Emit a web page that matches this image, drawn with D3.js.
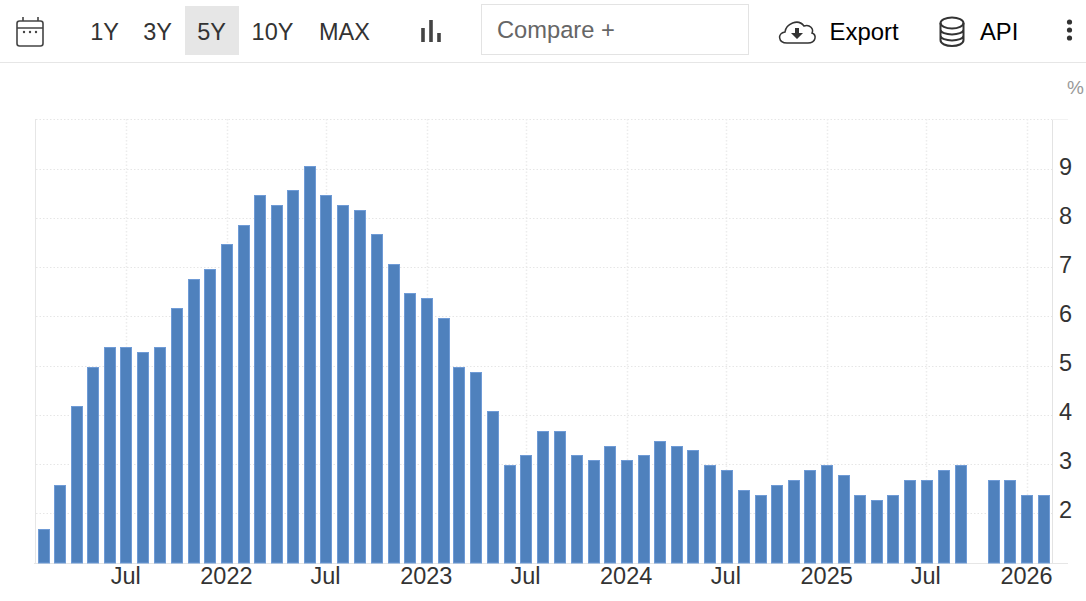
<!DOCTYPE html>
<html><head><meta charset="utf-8">
<script src="https://cdn.jsdelivr.net/npm/d3@7/dist/d3.min.js"></script>
<style>
html,body{margin:0;padding:0;background:#fff;overflow:hidden}
svg{display:block;font-family:"Liberation Sans",Arial,sans-serif}
.grid line{stroke:#e6e6e6;stroke-width:1;stroke-dasharray:1.5 2}
.grid line.v{stroke:#ececec;stroke-width:1.5}
.axis text{font-size:23.5px;fill:#333}
.axis path,.axis line{display:none}
</style></head><body>
<svg id="c" width="1086" height="601"></svg>
<script>
const startMonth = "2021-02";
const values = [1.7,2.6,4.2,5.0,5.4,5.4,5.3,5.4,6.2,6.8,7.0,7.5,7.9,8.5,8.3,8.6,9.1,8.5,8.3,8.2,7.7,7.1,6.5,6.4,6.0,5.0,4.9,4.1,3.0,3.2,3.7,3.7,3.2,3.1,3.4,3.1,3.2,3.5,3.4,3.3,3.0,2.9,2.5,2.4,2.6,2.7,2.9,3.0,2.8,2.4,2.3,2.4,2.7,2.7,2.9,3.0,null,2.7,2.7,2.4,2.4];
const xTickMonths = ["2021-07","2022-01","2022-07","2023-01","2023-07","2024-01","2024-07","2025-01","2025-07","2026-01"];
const xTickLabels = ["Jul","2022","Jul","2023","Jul","2024","Jul","2025","Jul","2026"];
const yTicks = [2,3,4,5,6,7,8,9];
const rangeButtons = ["1Y","3Y","5Y","10Y","MAX"];
const activeRange = "5Y";
const unitLabel = "%";
const barColor = "#4f81bd";
const barEdge = "#6f9bd6";

const parse = d3.utcParse("%Y-%m");
const first = parse(startMonth);
const months = values.map((_, i) => d3.utcMonth.offset(first, i));
const plot = {l:36, r:1052, t:119, b:563};
const x = d3.scaleUtc().domain([first, months[months.length-1]]).range([44,1044]);
const y = d3.scaleLinear().domain([1,10]).range([plot.b, 121]);
const svg = d3.select("#c");
const tickDates = xTickMonths.map(parse);

// toolbar
svg.append("line").attr("x1",0).attr("x2",1086).attr("y1",62.5).attr("y2",62.5).attr("stroke","#e6e6e6");
const btnX = {"1Y":104.5,"3Y":157.5,"5Y":211.5,"10Y":272.5,"MAX":344.5};
svg.append("rect").attr("x",185).attr("y",6).attr("width",54).attr("height",49).attr("fill","#e6e6e6");
svg.selectAll(".rb").data(rangeButtons).join("text").attr("class","rb")
  .attr("x",d=>btnX[d]).attr("y",40).attr("text-anchor","middle")
  .attr("font-size",23.5).attr("fill","#333").text(d=>d);
// calendar icon
const cal = svg.append("g").attr("fill","none").attr("stroke","#444").attr("stroke-width",1.6);
cal.append("rect").attr("x",17).attr("y",21).attr("width",26).attr("height",25).attr("rx",2.5);
cal.append("path").attr("d","M17 28H43M23 17V21M38 17V21");
cal.selectAll("circle").data([24,30,36]).join("circle").attr("cx",d=>d).attr("cy",32).attr("r",1.2).attr("fill","#444").attr("stroke","none");
// bar-type icon
svg.append("path").attr("d","M423 28V42M431 20V42M439 33V42").attr("stroke","#444").attr("stroke-width",3.6).attr("fill","none");
// compare box
svg.append("rect").attr("x",481.5).attr("y",4.5).attr("width",267).attr("height",50).attr("fill","#fff").attr("stroke","#e3e3e3");
svg.append("text").attr("x",497).attr("y",38).attr("font-size",23.7).attr("fill","#666").text("Compare +");
// export
svg.append("path").attr("d","M787 43C778 43 777 33 785 32C786 24 798 18 804 26C810 24 814 29 812 33C817 35 816 43 808 43Z").attr("fill","none").attr("stroke","#333").attr("stroke-width",1.5);
svg.append("path").attr("d","M795 28H799V33H803L797 39L791 33H795Z").attr("fill","#333");
svg.append("text").attr("x",829.5).attr("y",40).attr("font-size",23.9).attr("fill","#000").text("Export");
// API
const db = svg.append("g").attr("fill","none").attr("stroke","#333").attr("stroke-width",2);
db.append("ellipse").attr("cx",952).attr("cy",23).attr("rx",11.5).attr("ry",5.5);
db.append("path").attr("d","M940.5 23V40C940.5 48 963.5 48 963.5 40V23M940.5 29.5C940.5 36 963.5 36 963.5 29.5M940.5 35.5C940.5 42 963.5 42 963.5 35.5");
svg.append("text").attr("x",980).attr("y",40).attr("font-size",23.8).attr("fill","#000").text("API");
svg.selectAll(".dot").data([22,30,38]).join("circle").attr("class","dot").attr("cx",1069.5).attr("cy",d=>d).attr("r",2.6).attr("fill","#333");

// unit
svg.append("text").attr("x",1067).attr("y",94).attr("font-size",19).attr("fill","#999").text(unitLabel);

// grid
const grid = svg.append("g").attr("class","grid");
grid.selectAll(".h").data(yTicks).join("line").attr("class","h")
  .attr("x1",plot.l).attr("x2",plot.r).attr("y1",d=>Math.round(y(d))-.5).attr("y2",d=>Math.round(y(d))-.5);
grid.append("line").attr("class","h").attr("x1",plot.l).attr("x2",plot.r).attr("y1",plot.t+.5).attr("y2",plot.t+.5);
grid.selectAll(".v").data(tickDates).join("line").attr("class","v")
  .attr("x1",d=>Math.round(x(d))+.5).attr("x2",d=>Math.round(x(d))+.5).attr("y1",plot.t).attr("y2",plot.b);
svg.append("line").attr("x1",plot.l-.5).attr("x2",plot.l-.5).attr("y1",plot.t).attr("y2",plot.b).attr("stroke","#e6e6e6");
svg.append("line").attr("x1",plot.r+.5).attr("x2",plot.r+.5).attr("y1",plot.t).attr("y2",plot.b).attr("stroke","#e3e3e3");
svg.append("line").attr("x1",plot.r).attr("x2",plot.r+16).attr("y1",plot.t+.5).attr("y2",plot.t+.5).attr("stroke","#f2f2f2");
svg.append("line").attr("x1",plot.l-2).attr("x2",plot.r+16).attr("y1",plot.b+.5).attr("y2",plot.b+.5).attr("stroke","#e6e6e6");

// bars
const barW = 12;
svg.append("g").selectAll("rect").data(values.map((v,i)=>({v,d:months[i]})).filter(o=>o.v!==null)).join("rect")
  .attr("x",o=>Math.round(x(o.d)-barW/2+.3)+.5).attr("width",barW-1)
  .attr("y",o=>Math.round(y(o.v)+.4)+.5).attr("height",o=>plot.b-Math.round(y(o.v)+.4)-.5)
  .attr("fill",barColor).attr("stroke",barEdge).attr("stroke-width",1);

// axes
const xAxis = d3.axisBottom(x).tickValues(tickDates).tickFormat((d,i)=>xTickLabels[i]).tickSize(0).tickPadding(0);
const gx = svg.append("g").attr("class","axis").attr("transform",`translate(-1,${plot.b})`).call(xAxis);
gx.selectAll("text").attr("dy",null).attr("y",21);
const yAxis = d3.axisRight(y).tickValues(yTicks).tickFormat(d3.format("d")).tickSize(0).tickPadding(0);
const gy = svg.append("g").attr("class","axis").attr("transform",`translate(1059,0)`).call(yAxis);
gy.selectAll("text").attr("dy",null).attr("y",4);
</script></body></html>
